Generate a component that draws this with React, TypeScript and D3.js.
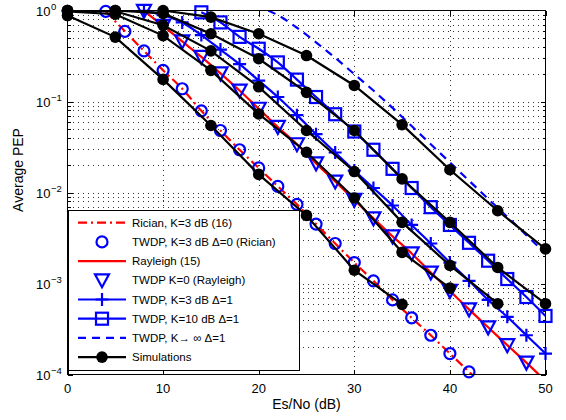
import React, { useEffect, useRef } from "react";
import * as d3 from "d3";

// Es/No (dB) grid of the simulation points
const snrSim = [0, 5, 10, 15, 20, 25, 30, 35, 40, 45, 50];
// simulated PEP (black dots), one array per case
const simRician = [0.88, 0.51, 0.175, 0.0545, 0.0158, 0.0056, 0.0014, 0.00059];
const simRayleigh = [0.98, 0.91, 0.53, 0.22, 0.073, 0.0277, 0.0087, 0.0022, 0.00089];
const simK3 = [1.0, 0.98, 0.69, 0.36, 0.145, 0.048, 0.017, 0.0047, 0.00158, 0.0006];
const simK10 = [1.0, 1.0, 0.93, 0.555, 0.295, 0.126, 0.048, 0.0141, 0.0047, 0.0015, 0.0006];
const simKinf = [1.0, 1.0, 1.0, 0.845, 0.555, 0.32, 0.15, 0.0556, 0.0178, 0.0063, 0.0024];

// analytical curves
const ricianSnr = [4, 6, 8, 10, 12, 14, 16, 18, 20, 22, 24, 26, 28, 30, 32, 34, 36, 38, 40, 42, 44];
const ricianPep = [0.98, 0.59, 0.36, 0.22, 0.138, 0.079, 0.048, 0.0295, 0.0186, 0.0117, 0.0074, 0.0045, 0.00275, 0.0017, 0.00107, 0.00066, 0.00042, 0.00027, 0.00017, 0.000107, 0.000068];

const rayleighSnr = [8, 10, 12, 14, 16, 18, 20, 22, 24, 26, 28, 30, 32, 34, 36, 38, 40, 42, 44, 46, 48, 50];
const rayleighPep = [0.99, 0.676, 0.457, 0.309, 0.204, 0.132, 0.0832, 0.0525, 0.0339, 0.0209, 0.0132, 0.0083, 0.0052, 0.0033, 0.00214, 0.00132, 0.00083, 0.00052, 0.00033, 0.00021, 0.000135, 0.000085];

const k3Snr = [8, 10, 12, 14, 16, 18, 20, 22, 24, 26, 28, 30, 32, 34, 36, 38, 40, 42, 44, 46, 48, 50];
const k3Pep = [0.99, 0.89, 0.74, 0.537, 0.372, 0.257, 0.17, 0.112, 0.0708, 0.0437, 0.0275, 0.0174, 0.0112, 0.0072, 0.0044, 0.00275, 0.0017, 0.00107, 0.00066, 0.00043, 0.00027, 0.00017];

const k10Snr = [14, 16, 18, 20, 22, 24, 26, 28, 30, 32, 34, 36, 38, 40, 42, 44, 46, 48, 50];
const k10Pep = [0.955, 0.74, 0.513, 0.38, 0.269, 0.174, 0.112, 0.0724, 0.0468, 0.0295, 0.0182, 0.0112, 0.0069, 0.0044, 0.0028, 0.00178, 0.00112, 0.00071, 0.00044];

const kinfSnr = [21, 22, 24, 26, 28, 30, 32, 34, 36, 38, 40, 42, 44, 46, 48, 50];
const kinfPep = [1.0, 0.89, 0.646, 0.447, 0.302, 0.2, 0.132, 0.0851, 0.0537, 0.0339, 0.0214, 0.0135, 0.0085, 0.0054, 0.0034, 0.00214];

const xTicks = [0, 10, 20, 30, 40, 50];
const yDecades = [0, -1, -2, -3, -4];
const legendLabels = [
  "Rician, K=3 dB (16)",
  "TWDP, K=3 dB \u0394=0 (Rician)",
  "Rayleigh (15)",
  "TWDP K=0 (Rayleigh)",
  "TWDP, K=3 dB \u0394=1",
  "TWDP, K=10 dB \u0394=1",
  "TWDP, K\u2192 \u221e  \u0394=1",
  "Simulations",
];

const BLUE = "#0000ff";
const RED = "#ff0000";
const FONT = "'Liberation Sans', Arial, Helvetica, sans-serif";

export default function App() {
  const svgRef = useRef<SVGSVGElement>(null);

  useEffect(() => {
    const W = 566, H = 420;
    const left = 67.5, right = 545.5, top = 10.5, bottom = 374.5;
    const svg = d3.select(svgRef.current).attr("width", W).attr("height", H);
    svg.selectAll("*").remove();

    const x = d3.scaleLinear().domain([0, 50]).range([left, right]);
    const y = d3.scaleLog().domain([1e-4, 1]).range([bottom, top]);

    svg.append("rect").attr("width", W).attr("height", H).attr("fill", "white");

    svg.append("clipPath").attr("id", "plotclip")
      .append("rect").attr("x", left).attr("y", top)
      .attr("width", right - left).attr("height", bottom - top);

    // grid *****************************************************
    const minorVals: number[] = [];
    for (let e = -4; e < 0; e++) for (let k = 1; k <= 9; k++) minorVals.push(k * Math.pow(10, e));
    const grid = svg.append("g").attr("stroke", "#333").attr("stroke-width", 1)
      .attr("stroke-dasharray", "1 4").attr("shape-rendering", "crispEdges");
    minorVals.filter(v => v > 1e-4).forEach(v => {
      const yy = Math.round(y(v)) + 0.5;
      grid.append("line").attr("x1", left).attr("x2", right).attr("y1", yy).attr("y2", yy);
    });
    xTicks.filter(t => t > 0 && t < 50).forEach(t => {
      const xx = Math.round(x(t)) + 0.5;
      grid.append("line").attr("x1", xx).attr("x2", xx).attr("y1", top).attr("y2", bottom);
    });

    // ticks *****************************************************
    const ticks = svg.append("g").attr("stroke", "black").attr("stroke-width", 1).attr("shape-rendering", "crispEdges");
    xTicks.forEach(t => {
      const xx = Math.round(x(t)) + 0.5;
      ticks.append("line").attr("x1", xx).attr("x2", xx).attr("y1", bottom).attr("y2", bottom - 5);
      ticks.append("line").attr("x1", xx).attr("x2", xx).attr("y1", top).attr("y2", top + 5);
    });
    minorVals.forEach(v => {
      const yy = Math.round(y(v)) + 0.5;
      const len = v === Math.pow(10, Math.round(Math.log10(v))) ? 5 : 3;
      ticks.append("line").attr("x1", left).attr("x2", left + len).attr("y1", yy).attr("y2", yy);
      ticks.append("line").attr("x1", right).attr("x2", right - len).attr("y1", yy).attr("y2", yy);
    });

    // tick labels
    xTicks.forEach(t => {
      svg.append("text").attr("x", x(t)).attr("y", 393).attr("text-anchor", "middle")
        .attr("font-family", FONT).attr("font-size", 13).text(t);
    });
    yDecades.forEach(e => {
      const yy = y(Math.pow(10, e));
      svg.append("text").attr("x", 50.5).attr("y", yy + 5).attr("text-anchor", "end")
        .attr("font-family", FONT).attr("font-size", 13).text("10");
      svg.append("text").attr("x", 51).attr("y", yy - 0.5)
        .attr("font-family", FONT).attr("font-size", 9.5).text(e === 0 ? "0" : "\u2212" + (-e));
    });

    svg.append("text").attr("x", (left + right) / 2).attr("y", 408.5).attr("text-anchor", "middle")
      .attr("font-family", FONT).attr("font-size", 14).text("Es/No (dB)");
    svg.append("text").attr("transform", "translate(23,170) rotate(-90)").attr("text-anchor", "middle")
      .attr("font-family", FONT).attr("font-size", 14).text("Average PEP");

    // series *****************************************************
    const plot = svg.append("g").attr("clip-path", "url(#plotclip)");
    const mk = svg.append("g");

    const inDomain = (p: number) => p >= 1e-4 && p <= 1;
    const pathOf = (xs: number[], ps: number[], curve: any) =>
      d3.line<number>().x((_, i) => x(xs[i])).y(p => y(p)).curve(curve)(ps);

    const drawLine = (g: any, xs: number[], ps: number[], color: string, dash: string | null, curve: any) => {
      g.append("path").attr("d", pathOf(xs, ps, curve)).attr("fill", "none")
        .attr("stroke", color).attr("stroke-width", 2.2).attr("stroke-dasharray", dash);
    };

    const marker = (g: any, kind: string, cx: number, cy: number, color: string) => {
      if (kind === "circle") {
        g.append("circle").attr("cx", cx).attr("cy", cy).attr("r", 5.5)
          .attr("fill", "none").attr("stroke", color).attr("stroke-width", 2.2);
      } else if (kind === "tri") {
        g.append("path").attr("d", `M${cx - 7},${cy - 6}L${cx + 7},${cy - 6}L${cx},${cy + 7}Z`)
          .attr("fill", "none").attr("stroke", color).attr("stroke-width", 2.2);
      } else if (kind === "square") {
        g.append("rect").attr("x", cx - 6).attr("y", cy - 6).attr("width", 12).attr("height", 12)
          .attr("fill", "none").attr("stroke", color).attr("stroke-width", 2.2);
      } else if (kind === "plus") {
        g.append("path").attr("d", `M${cx - 6.5},${cy}H${cx + 6.5}M${cx},${cy - 6.5}V${cy + 6.5}`)
          .attr("stroke", color).attr("stroke-width", 2.2);
      } else if (kind === "dot") {
        g.append("circle").attr("cx", cx).attr("cy", cy).attr("r", 5.8).attr("fill", color);
      }
    };

    const drawMarkers = (xs: number[], ps: number[], kind: string, color: string) => {
      ps.forEach((p, i) => { if (inDomain(p)) marker(mk, kind, x(xs[i]), y(p), color); });
    };

    const dashDot = "9 4 2 4";
    const dashed = "8 6";

    drawLine(plot, ricianSnr, ricianPep, RED, dashDot, d3.curveMonotoneX);
    drawMarkers(ricianSnr, ricianPep, "circle", BLUE);
    drawLine(plot, rayleighSnr, rayleighPep, RED, null, d3.curveMonotoneX);
    drawMarkers(rayleighSnr, rayleighPep, "tri", BLUE);
    drawLine(plot, k3Snr, k3Pep, BLUE, null, d3.curveMonotoneX);
    drawMarkers(k3Snr, k3Pep, "plus", BLUE);
    drawLine(plot, k10Snr, k10Pep, BLUE, null, d3.curveMonotoneX);
    drawMarkers(k10Snr, k10Pep, "square", BLUE);
    drawLine(plot, kinfSnr, kinfPep, BLUE, dashed, d3.curveMonotoneX);

    const sims = [simRician, simRayleigh, simK3, simK10, simKinf];
    const simLayer = svg.append("g");
    sims.forEach(s => {
      const xs = snrSim.slice(0, s.length);
      simLayer.append("path").attr("d", pathOf(xs, s, d3.curveLinear)).attr("fill", "none")
        .attr("stroke", "black").attr("stroke-width", 2.2).attr("clip-path", "url(#plotclip)");
      s.forEach((p, i) => { if (inDomain(p)) marker(simLayer, "dot", x(xs[i]), y(p), "black"); });
    });

    // axes box
    svg.append("rect").attr("x", left).attr("y", top).attr("width", right - left).attr("height", bottom - top)
      .attr("fill", "none").attr("stroke", "black").attr("stroke-width", 1).attr("shape-rendering", "crispEdges");

    // legend *****************************************************
    const lg = svg.append("g");
    lg.append("rect").attr("x", 68.5).attr("y", 210.5).attr("width", 231).attr("height", 160)
      .attr("fill", "white").attr("stroke", "black").attr("stroke-width", 1).attr("shape-rendering", "crispEdges");
    const styles = [
      { color: RED, dash: dashDot, line: true, mark: null },
      { color: BLUE, dash: null, line: false, mark: "circle" },
      { color: RED, dash: null, line: true, mark: null },
      { color: BLUE, dash: null, line: false, mark: "tri" },
      { color: BLUE, dash: null, line: true, mark: "plus" },
      { color: BLUE, dash: null, line: true, mark: "square" },
      { color: BLUE, dash: dashed, line: true, mark: null },
      { color: "black", dash: null, line: true, mark: "dot" },
    ];
    legendLabels.forEach((label, i) => {
      const yy = 222.7 + i * 19.2;
      const st = styles[i];
      if (st.line) {
        lg.append("line").attr("x1", 78).attr("x2", 126).attr("y1", yy).attr("y2", yy)
          .attr("stroke", st.color).attr("stroke-width", 2.2).attr("stroke-dasharray", st.dash);
      }
      if (st.mark) marker(lg, st.mark, 102, yy, st.color);
      lg.append("text").attr("x", 132).attr("y", yy + 4).attr("font-family", FONT)
        .attr("font-size", 11.5).text(label);
    });
  }, []);

  return (
    <div style={{ position: "absolute", left: 0, top: 0 }}>
      <svg ref={svgRef} />
    </div>
  );
}
